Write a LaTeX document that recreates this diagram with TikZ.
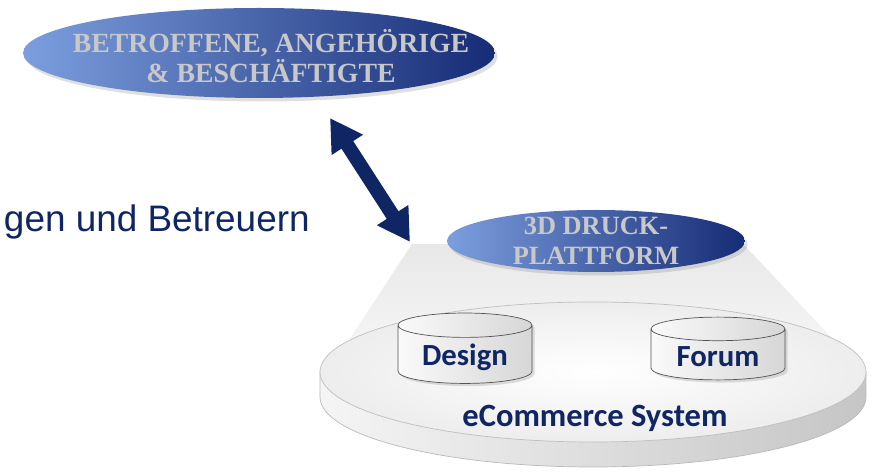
\documentclass[tikz,border=0pt]{standalone}
\usepackage{fontspec}
\setmainfont{Liberation Serif}
\newfontfamily\labelfont{Carlito}
\newfontfamily\arialfont{Liberation Sans}
\usepackage{tikz}
\usetikzlibrary{arrows.meta,shapes.geometric,shadows,calc}
\definecolor{navy}{RGB}{16,38,100}
\definecolor{lightblue}{RGB}{124,158,222}
\definecolor{darkblue}{RGB}{22,44,118}
\definecolor{stencil}{RGB}{200,200,200}

\begin{document}
\begin{tikzpicture}[x=0.02cm, y=0.02cm,
	bubble/.style={ellipse, inner sep=0pt, left color=lightblue, right color=darkblue,
		middle color=lightblue!50!darkblue, drop shadow={shadow xshift=1.5pt, shadow yshift=-2pt, opacity=0.25}},
	stenciltext/.style={text=stencil, align=center, font=\bfseries\fontsize{15.8}{17}\selectfont},
	dbcyl/.style={cylinder, shape border rotate=90, aspect=0.25, draw=gray!65!black,
		left color=gray!4, right color=gray!32, minimum width=2.68cm, minimum height=1.12cm,
		drop shadow={shadow xshift=1.5pt, shadow yshift=-1.5pt, opacity=0.25},
		text=navy, font=\labelfont\bfseries\fontsize{17.5}{20}\selectfont},
	biarrow/.style={line width=0.28cm, draw=navy, {Triangle[width=0.7cm,length=0.64cm]}-{Triangle[width=0.7cm,length=0.64cm]}}]
		%%%%% START %%%%%
		
		\useasboundingbox (0, 0) rectangle (872, 472);
		
		% light beam from the platform down to the disc
		\shade[top color=gray!18, bottom color=gray!4] (412, 228) -- (745, 226) -- (868, 96) -- (320, 88) -- cycle;
		
		% disc
		\coordinate (disc) at (593, 100);
		\draw[gray!55, left color=gray!8, middle color=gray!14, right color=gray!45]
			($(disc)+(-273, 0)$) -- ++(0, -25) arc[start angle=180, end angle=360, x radius=273, y radius=70] -- ++(0, 25) -- cycle;
		\draw[gray!50, inner color=white, outer color=gray!14, shading=radial] (disc) ellipse [x radius=273, y radius=70];
		
		\node[dbcyl] (design) at (465, 115) {\raisebox{-5pt}{Design}};
		\node[dbcyl] (forum) at (718, 115) {\raisebox{-5pt}{Forum}};
		\node[text=navy, font=\labelfont\bfseries\fontsize{18.5}{20}\selectfont] (ecommerce) at (595, 54) {eCommerce System};
		
		% ellipses
		\node[bubble, minimum width=9.44cm, minimum height=1.8cm] (betroffene) at (259, 419) {};
		\node[stenciltext] (betroffenetext) at ([xshift=0.24cm, yshift=-0.06cm]betroffene.center) {BETROFFENE, ANGEHÖRIGE\\\& BESCHÄFTIGTE};
		\node[bubble, minimum width=5.96cm, minimum height=1.24cm] (plattform) at (596, 231) {};
		\node[stenciltext, font=\bfseries\fontsize{15}{17}\selectfont] (plattformtext) at (plattform.center) {3D DRUCK-\\PLATTFORM};
		
		\node[anchor=base east, inner xsep=0pt, text=navy, font=\arialfont\fontsize{21}{25}\selectfont] (betreuern) at (310, 240) {gen und Betreuern};
		
		\coordinate (arrtop) at (330, 354);
		\coordinate (arrbot) at (410, 230);
		\draw[biarrow] (arrtop) -- (arrbot);
		
		%%%%% END %%%%%
\end{tikzpicture}
\end{document}
